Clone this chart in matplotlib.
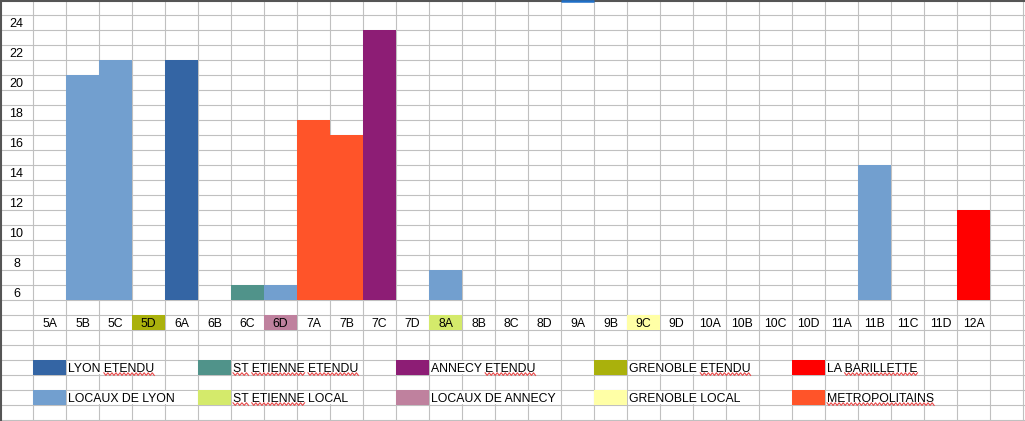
import matplotlib
matplotlib.use("Agg")
import matplotlib.pyplot as plt
from matplotlib.patches import Rectangle
from matplotlib.font_manager import FontProperties
import numpy as np

# spreadsheet "chart": coloured cells, one column per category
categories = ['5A', '5B', '5C', '5D', '6A', '6B', '6C', '6D', '7A', '7B', '7C', '7D',
              '8A', '8B', '8C', '8D', '9A', '9B', '9C', '9D', '10A', '10B', '10C', '10D',
              '11A', '11B', '11C', '11D', '12A']
values = [0, 20, 21, 0, 21, 0, 6, 6, 17, 16, 23, 0,
          7, 0, 0, 0, 0, 0, 0, 0, 0, 0, 0, 0,
          0, 14, 0, 0, 11]
groups = [None, 'LOCAUX DE LYON', 'LOCAUX DE LYON', None, 'LYON ETENDU', None,
          'ST ETIENNE ETENDU', 'LOCAUX DE LYON', 'METROPOLITAINS', 'METROPOLITAINS',
          'ANNECY ETENDU', None, 'LOCAUX DE LYON', None, None, None, None, None, None,
          None, None, None, None, None, None, 'LOCAUX DE LYON', None, None, 'LA BARILLETTE']
# category label cells with a background colour
label_fill = {'5D': 'GRENOBLE ETENDU', '6D': 'LOCAUX DE ANNECY',
              '8A': 'ST ETIENNE LOCAL', '9C': 'GRENOBLE LOCAL'}

y_labels = [24, 22, 20, 18, 16, 14, 12, 10, 8, 6]

legend_row1 = ['LYON ETENDU', 'ST ETIENNE ETENDU', 'ANNECY ETENDU', 'GRENOBLE ETENDU', 'LA BARILLETTE']
legend_row2 = ['LOCAUX DE LYON', 'ST ETIENNE LOCAL', 'LOCAUX DE ANNECY', 'GRENOBLE LOCAL', 'METROPOLITAINS']
legend_cols = [1, 6, 12, 18, 24]

colors = {
    'LYON ETENDU': '#3465a4',
    'ST ETIENNE ETENDU': '#50938a',
    'ANNECY ETENDU': '#8d1d75',
    'GRENOBLE ETENDU': '#aab10c',
    'LA BARILLETTE': '#ff0000',
    'LOCAUX DE LYON': '#729fcf',
    'ST ETIENNE LOCAL': '#d4ea6b',
    'LOCAUX DE ANNECY': '#bf819e',
    'GRENOBLE LOCAL': '#ffffa6',
    'METROPOLITAINS': '#ff5429',
}

# words the spell checker flagged
misspelled = {
    'LYON ETENDU': ['ETENDU'],
    'ST ETIENNE ETENDU': ['ST', 'ETIENNE', 'ETENDU'],
    'ANNECY ETENDU': ['ETENDU'],
    'GRENOBLE ETENDU': ['ETENDU'],
    'LA BARILLETTE': ['BARILLETTE'],
    'ST ETIENNE LOCAL': ['ST', 'ETIENNE'],
    'METROPOLITAINS': ['METROPOLITAINS'],
}

W, H, DPI = 1025, 421, 100
COL_PX, ROW_PX = 33.0, 15.0
TOP = 25.5          # value of the top edge of the sheet
BASE = 5.5          # bottom of the bar area
CAT_ROW, LEG1_ROW, LEG2_ROW = 4, 1, -1
FONT = 'Liberation Sans'
FSIZE = 8.8
BASELINE_OFF = 4.6 / ROW_PX

fig = plt.figure(figsize=(W / DPI, H / DPI), dpi=DPI)
ax = fig.add_axes([0, 0, 1, 1])
for s in ax.spines.values():
    s.set_visible(False)

# cell grid (ticks first, limits after, so the view is not stretched)
ax.set_xticks(np.arange(0, 32))
ax.set_yticks(np.arange(TOP - 28, TOP + 1, 1))
ax.tick_params(length=0, labelbottom=False, labelleft=False)
ax.grid(True, color='#c0c0c0', lw=0.8)
ax.set_axisbelow(True)
ax.set_xlim(0, W / COL_PX)
ax.set_ylim(TOP - H / ROW_PX, TOP)

# bars (filled cells)
cols = np.arange(len(categories)) + 1
for c, v, g in zip(cols, values, groups):
    if v > 0:
        ax.bar(c + 0.5, v + 0.5 - BASE, bottom=BASE, width=1.0,
               color=colors[g], linewidth=0, zorder=2)

# y labels in the first column
for v in y_labels:
    ax.text(0.5, v - BASELINE_OFF, str(v), ha='center', va='baseline',
            family=FONT, fontsize=FSIZE + 0.2, color='black', zorder=3)

# category labels
for c, name in zip(cols, categories):
    if name in label_fill:
        ax.add_patch(Rectangle((c, CAT_ROW - 0.5), 1, 1, color=colors[label_fill[name]],
                               lw=0, zorder=2))
    ax.text(c + 0.5, CAT_ROW - BASELINE_OFF, name, ha='center', va='baseline',
            family=FONT, fontsize=FSIZE, color='black', zorder=3)

# legend swatches and labels (text overflows into the cells to the right)
renderer = fig.canvas.get_renderer()
prop = FontProperties(family=FONT, size=FSIZE)


def text_px(s):
    w, _, _ = renderer.get_text_width_height_descent(s, prop, ismath=False)
    return w


for row_y, names in [(LEG1_ROW, legend_row1), (LEG2_ROW, legend_row2)]:
    for c, name in zip(legend_cols, names):
        ax.add_patch(Rectangle((c, row_y - 0.5), 1, 1, color=colors[name], lw=0, zorder=2))
        x0 = c + 1 + 2.0 / COL_PX
        width_cols = text_px(name) / COL_PX
        end_col = int(np.ceil(x0 + width_cols))
        ax.add_patch(Rectangle((c + 1 + 0.03, row_y - 0.5 + 0.05), end_col - c - 1 - 0.06, 0.9,
                               color='white', lw=0, zorder=1.5))
        ax.text(x0, row_y - BASELINE_OFF, name, ha='left', va='baseline',
                family=FONT, fontsize=FSIZE, color='black', zorder=3)
        # red wavy underline under flagged words
        for word in misspelled.get(name, []):
            start = name.find(word)
            wx0 = x0 + text_px(name[:start]) / COL_PX if start > 0 else x0
            wx1 = wx0 + text_px(word) / COL_PX
            n = max(2, int((wx1 - wx0) * COL_PX / 2.0))
            xs = np.linspace(wx0, wx1, n + 1)
            ys = row_y - BASELINE_OFF - (2.0 + np.where(np.arange(n + 1) % 2 == 0, -1.3, 1.3)) / ROW_PX
            ax.plot(xs, ys, color='#e84848', lw=0.8, zorder=3.5)

# sheet frame: dark top/left border, selected column marker
ax.axhline(TOP - 0.5 / ROW_PX, color='#555555', lw=1.5, zorder=4)
ax.axvline(0.5 / COL_PX, color='#555555', lw=1.5, zorder=4)
ax.hlines(TOP - 0.5 / ROW_PX, 17, 18, color='#1e6fc8', lw=1.8, zorder=5)

fig.savefig('out.png', dpi=DPI)
